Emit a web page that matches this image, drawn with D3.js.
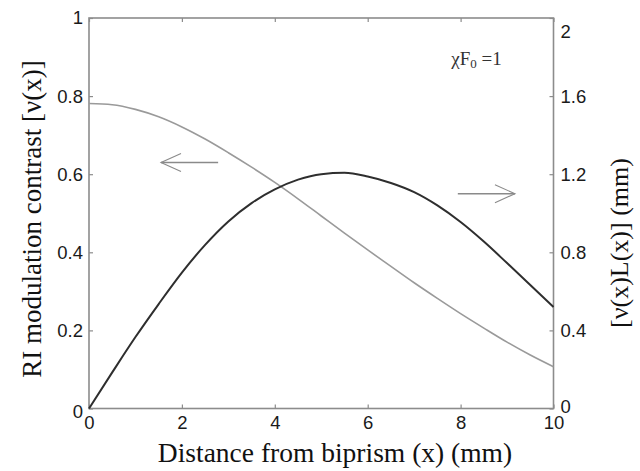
<!DOCTYPE html>
<html><head><meta charset="utf-8">
<script src="https://cdn.jsdelivr.net/npm/d3@7"></script>
<style>
html,body{margin:0;padding:0;background:#fff;}
svg{display:block;}
</style>
</head><body>
<svg id="c" width="640" height="471"></svg>
<script>
// x positions (mm)
const xs = [0, 0.5, 1, 1.5, 2, 2.5, 3, 3.5, 4, 4.5, 5, 5.5, 6, 6.5, 7, 7.5, 8, 8.5, 9, 9.5, 10];
// RI modulation contrast v(x) (left axis)
const contrast = [0.781, 0.778, 0.766, 0.747, 0.721, 0.690, 0.655, 0.618, 0.579, 0.537, 0.493, 0.449, 0.406, 0.364, 0.322, 0.282, 0.243, 0.206, 0.170, 0.137, 0.107];
// v(x)L(x) in mm (right axis)
const product = [0, 0.185, 0.366, 0.535, 0.696, 0.838, 0.958, 1.052, 1.122, 1.172, 1.200, 1.207, 1.188, 1.155, 1.108, 1.040, 0.955, 0.855, 0.745, 0.633, 0.52];
const xTicks = [0, 2, 4, 6, 8, 10];
const leftTicks = [0, 0.2, 0.4, 0.6, 0.8, 1];
const rightTicks = [0, 0.4, 0.8, 1.2, 1.6, 2];

const L = 89, R = 553.5, T = 18, B = 408.5;
const svg = d3.select("#c");
const x = d3.scaleLinear().domain([0, 10]).range([L, R]);
const yL = d3.scaleLinear().domain([0, 1]).range([B, T]);
const yR = d3.scaleLinear().domain([0, 2]).range([B, T]);

const axisColor = "#8c8c8c";
const tickFont = "'Liberation Sans', Arial, sans-serif";
const serif = "'Liberation Serif', 'Times New Roman', serif";

function styleAxis(g) {
  g.select(".domain").remove();
  g.selectAll(".tick line").attr("stroke", axisColor).attr("stroke-width", 1.2);
  g.selectAll(".tick text").attr("fill", "#1a1a1a").style("font-family", tickFont).style("font-size", "18.5px");
}

// box
svg.append("rect").attr("x", L).attr("y", T).attr("width", R - L).attr("height", B - T)
  .attr("fill", "none").attr("stroke", axisColor).attr("stroke-width", 1.6);

// bottom axis
svg.append("g").attr("transform", `translate(0,${B})`)
  .call(d3.axisBottom(x).tickValues(xTicks).tickFormat(d3.format("d")).tickSize(-4).tickPadding(7))
  .call(styleAxis);
// top ticks
svg.append("g").attr("transform", `translate(0,${T})`)
  .call(d3.axisTop(x).tickValues(xTicks).tickSize(-4).tickFormat(""))
  .call(styleAxis);
// left axis
svg.append("g").attr("transform", `translate(${L},0)`)
  .call(d3.axisLeft(yL).tickValues(leftTicks).tickFormat(d => d === 0 || d === 1 ? d3.format("d")(d) : d3.format(".1f")(d)).tickSize(-4).tickPadding(6))
  .call(styleAxis)
  .call(g => g.selectAll(".tick text").filter(d => d === 0).attr("dy", "0.5em"));
// right axis
svg.append("g").attr("transform", `translate(${R},0)`)
  .call(d3.axisRight(yR).tickValues(rightTicks).tickFormat(d => d === 0 || d === 2 ? d3.format("d")(d) : d3.format(".1f")(d)).tickSize(-4).tickPadding(7))
  .call(styleAxis)
  .call(g => g.selectAll(".tick text").filter(d => d === 2).attr("dy", "1.05em"))
  .call(g => g.selectAll(".tick text").filter(d => d === 0).attr("dy", "0.2em"));

// curves
const lineL = d3.line().x((d, i) => x(xs[i])).y(d => yL(d)).curve(d3.curveMonotoneX);
const lineR = d3.line().x((d, i) => x(xs[i])).y(d => yR(d)).curve(d3.curveMonotoneX);
svg.append("path").datum(contrast).attr("d", lineL).attr("fill", "none").attr("stroke", "#9a9a9a").attr("stroke-width", 1.6);
svg.append("path").datum(product).attr("d", lineR).attr("fill", "none").attr("stroke", "#2e2e2e").attr("stroke-width", 2);

// arrows
function arrow(x0, x1, yv, color) {
  const px0 = x(x0), px1 = x(x1), py = yL(yv);
  const dir = Math.sign(px1 - px0);
  svg.append("line").attr("x1", px0).attr("y1", py).attr("x2", px1).attr("y2", py)
    .attr("stroke", color).attr("stroke-width", 1.3);
  svg.append("path").attr("d", `M${px1 - dir * 20},${py - 9} L${px1},${py} L${px1 - dir * 20},${py + 9}`)
    .attr("fill", "none").attr("stroke", color).attr("stroke-width", 1.1);
}
arrow(2.78, 1.55, 0.63, "#8a8a8a");
arrow(7.94, 9.17, 0.55, "#8a8a8a");

// annotation
const ann = svg.append("text").attr("x", x(7.8)).attr("y", yL(0.879))
  .style("font-family", serif).style("font-size", "19px").attr("fill", "#333");
ann.append("tspan").text("χF");
ann.append("tspan").attr("dy", 3).style("font-size", "13px").text("0");
ann.append("tspan").attr("dy", -3).text(" =1");

// axis titles
svg.append("text").attr("x", 335).attr("y", 462)
  .attr("text-anchor", "middle").style("font-family", serif).style("font-size", "27.5px").attr("fill", "#111")
  .text("Distance from biprism (x) (mm)");
svg.append("text").attr("transform", `translate(41,219) rotate(-90)`)
  .attr("text-anchor", "middle").style("font-family", serif).style("font-size", "27px").attr("fill", "#111")
  .text("RI modulation contrast [ν(x)]");
svg.append("text").attr("transform", `translate(628,243) rotate(-90)`)
  .attr("text-anchor", "middle").style("font-family", serif).style("font-size", "26px").attr("fill", "#111")
  .text("[ν(x)L(x)] (mm)");
</script>
</body></html>
